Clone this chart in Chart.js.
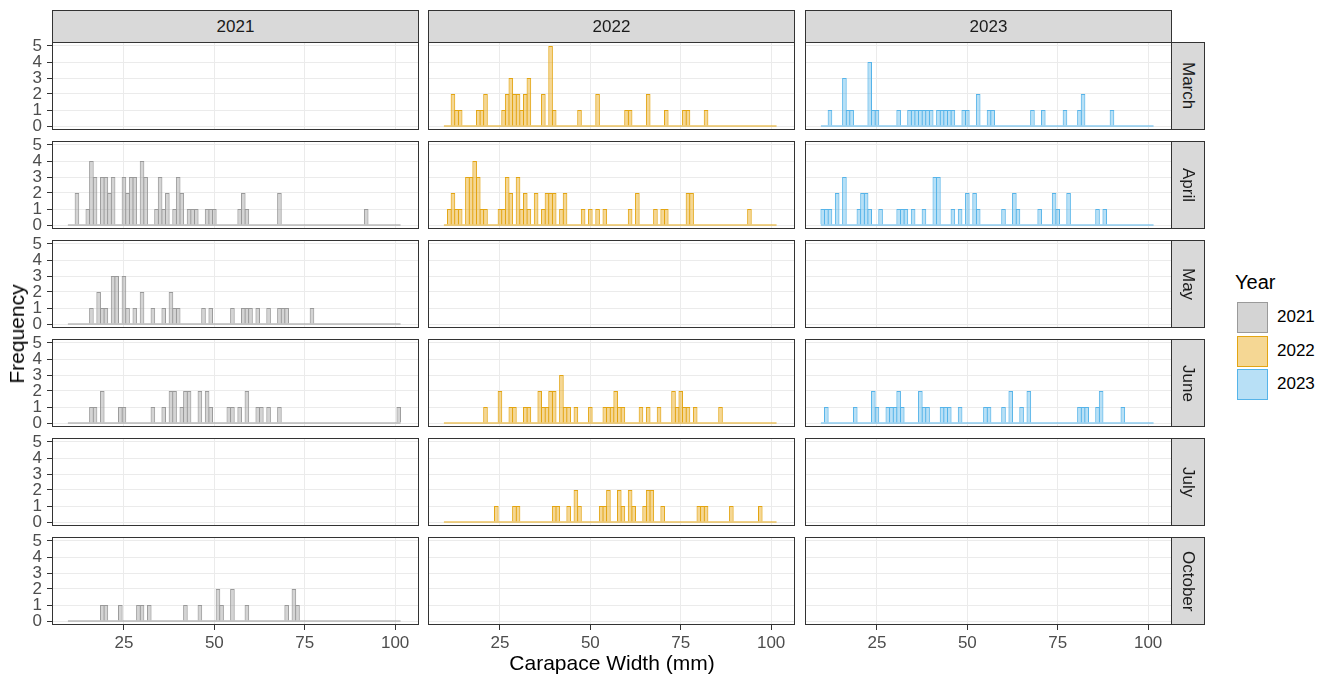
<!DOCTYPE html>
<html><head><meta charset="utf-8">
<script src="https://cdn.jsdelivr.net/npm/chart.js@4.4.1/dist/chart.umd.min.js"></script>
<style>
body{margin:0;background:#fff;width:1331px;height:682px;overflow:hidden;font-family:"Liberation Sans",Arial,sans-serif;position:relative}
.strip{position:absolute;background:#D9D9D9;border:1px solid #333;box-sizing:border-box;display:flex;align-items:center;justify-content:center;color:#1A1A1A;font-size:17px}
.vstrip{writing-mode:vertical-rl}
canvas{position:absolute}
.txt{position:absolute;white-space:nowrap;color:#000}
</style></head><body>
<script>
// ---- data ----
const years = ['2021','2022','2023'];
const months = ['March','April','May','June','July','October'];
const xTicks = [25,50,75,100];
const yTicks = [0,1,2,3,4,5];
const binFirst = 10, binCount = 92;   // 1 mm bins centred on 10 ... 101 mm
const yearFill = ['rgba(153,153,153,0.42)','rgba(230,159,0,0.42)','rgba(86,180,233,0.42)'];
const yearLine = ['#9A9A9A','#E3A512','#56B4E9'];

// [carapace width bin (mm), frequency]
const apr2021 = [[12,2],[15,1],[16,4],[17,3],[19,3],[20,3],[21,2],[22,3],[25,3],[26,2],[27,3],[28,3],[30,4],[31,3],[34,1],[35,3],[36,1],[37,2],[39,1],[40,3],[41,2],[43,1],[44,1],[45,1],[48,1],[49,1],[50,1],[57,1],[58,2],[59,1],[68,2],[92,1]];
const may2021 = [[16,1],[18,2],[19,1],[20,1],[22,3],[23,3],[25,3],[26,1],[28,1],[30,2],[33,1],[36,1],[38,2],[39,1],[40,1],[47,1],[49,1],[55,1],[58,1],[59,1],[60,1],[62,1],[65,1],[68,1],[69,1],[70,1],[77,1]];
const jun2021 = [[16,1],[17,1],[19,2],[24,1],[25,1],[33,1],[36,1],[38,2],[39,2],[41,1],[42,2],[43,2],[46,2],[48,2],[49,1],[54,1],[55,1],[57,1],[59,2],[62,1],[63,1],[65,1],[68,1],[101,1]];
const oct2021 = [[19,1],[20,1],[24,1],[29,1],[30,1],[32,1],[42,1],[46,1],[51,2],[52,1],[55,2],[59,1],[70,1],[72,2],[73,1]];
const mar2022 = [[12,2],[13,1],[14,1],[19,1],[20,1],[21,2],[26,1],[27,2],[28,3],[29,2],[30,2],[31,1],[32,2],[33,3],[37,2],[39,5],[40,1],[47,1],[52,2],[60,1],[61,1],[66,2],[71,1],[76,1],[77,1],[82,1]];
const apr2022 = [[11,1],[12,2],[13,1],[14,1],[16,3],[17,3],[18,4],[19,3],[20,1],[21,1],[25,1],[26,1],[27,3],[28,2],[30,3],[31,1],[32,2],[33,1],[35,2],[37,1],[38,2],[39,2],[40,2],[42,1],[43,2],[48,1],[50,1],[52,1],[54,1],[61,1],[63,2],[68,1],[70,1],[71,1],[77,2],[78,2],[94,1]];
const jun2022 = [[21,1],[25,2],[28,1],[29,1],[32,1],[33,1],[36,2],[37,1],[38,1],[39,2],[40,2],[42,3],[43,1],[44,1],[46,1],[50,1],[54,1],[55,1],[56,1],[57,2],[58,1],[59,1],[64,1],[66,1],[69,1],[73,2],[74,1],[75,2],[76,1],[77,1],[79,1],[86,1]];
const jul2022 = [[24,1],[29,1],[30,1],[40,1],[41,1],[44,1],[46,2],[47,1],[53,1],[54,1],[55,2],[58,2],[59,1],[61,2],[62,1],[65,1],[66,2],[67,2],[70,1],[80,1],[81,1],[82,1],[89,1],[97,1]];
const mar2023 = [[12,1],[16,3],[17,1],[18,1],[23,4],[24,1],[25,1],[31,1],[34,1],[35,1],[36,1],[37,1],[38,1],[39,1],[40,1],[42,1],[43,1],[44,1],[45,1],[46,1],[49,1],[50,1],[53,2],[56,1],[57,1],[68,1],[71,1],[77,1],[81,1],[82,2],[90,1]];
const apr2023 = [[10,1],[11,1],[12,1],[14,2],[16,3],[20,1],[21,2],[22,2],[23,1],[26,1],[31,1],[32,1],[33,1],[35,1],[38,1],[41,3],[42,3],[46,1],[48,1],[50,2],[52,2],[53,1],[60,1],[63,2],[64,1],[70,1],[74,2],[75,1],[78,2],[86,1],[88,1]];
const jun2023 = [[11,1],[19,1],[24,2],[25,1],[28,1],[29,1],[30,1],[31,2],[32,1],[37,2],[38,1],[39,1],[43,1],[44,1],[45,1],[48,1],[55,1],[56,1],[60,1],[62,2],[65,1],[67,2],[81,1],[82,1],[83,1],[86,1],[87,2],[93,1]];

const panelData = {
  '2021': {April: apr2021, May: may2021, June: jun2021, October: oct2021},
  '2022': {March: mar2022, April: apr2022, June: jun2022, July: jul2022},
  '2023': {March: mar2023, April: apr2023, June: jun2023}
};

// ---- layout ----
const colLeft = [52, 428, 805];
const panelW = 367;
const rowTop = [42, 141, 240, 339, 438, 537];
const panelH = 88;
const xMin = 5.1, xMax = 106.6, yMin = -0.25, yMax = 5.25;
const FONT = 'Liberation Sans';
const barLine = 1;
const barPct = 1 + barLine / (panelW / (xMax - xMin)); // border centred on the bin edge

const borderPlugin = {
  id: 'pborder',
  afterDraw(chart) {
    const {ctx, chartArea: a} = chart;
    ctx.save();
    ctx.strokeStyle = '#333333';
    ctx.lineWidth = 1;
    ctx.strokeRect(a.left + 0.5, a.top + 0.5, a.right - a.left - 1, a.bottom - a.top - 1);
    ctx.restore();
  }
};

function zeroPad(s) { s.paddingLeft = 0; s.paddingRight = 0; s.paddingTop = 0; s.paddingBottom = 0; }

function makePanel(r, c) {
  const isLeft = c === 0, isBottom = r === months.length - 1;
  const yAxisW = isLeft ? 52 : 0, xAxisH = isBottom ? 32 : 0;
  const padTop = isLeft ? 10 : 0, padBottom = (isLeft && !isBottom) ? 10 : 0;
  const W = panelW + yAxisW, H = panelH + xAxisH + padTop + padBottom;
  const cv = document.createElement('canvas');
  cv.width = W; cv.height = H;
  cv.style.width = W + 'px'; cv.style.height = H + 'px';
  cv.style.left = (colLeft[c] - yAxisW) + 'px';
  cv.style.top = (rowTop[r] - padTop) + 'px';
  document.body.appendChild(cv);

  const counts = panelData[years[c]][months[r]];
  const datasets = [];
  if (counts) {
    const dense = [];
    for (let i = 0; i < binCount; i++) dense.push({x: binFirst + i, y: 0});
    counts.forEach(([mm, n]) => { dense[mm - binFirst].y = n; });
    datasets.push({
      type: 'bar', data: dense,
      backgroundColor: yearFill[c], borderColor: yearLine[c], borderWidth: barLine,
      borderSkipped: 'start', categoryPercentage: 1, barPercentage: barPct, grouped: false, order: 2
    });
    datasets.push({
      type: 'line',
      data: [{x: binFirst - 0.5, y: 0}, {x: binFirst + binCount - 0.5, y: 0}],
      borderColor: yearLine[c], borderWidth: 1.2, pointRadius: 0, order: 1
    });
  }

  new Chart(cv, {
    type: 'bar',
    data: {datasets},
    options: {
      responsive: false, animation: false, devicePixelRatio: 1, events: [],
      layout: {padding: {top: padTop, bottom: padBottom, left: 0, right: 0}, autoPadding: false},
      plugins: {legend: {display: false}, tooltip: {enabled: false}},
      scales: {
        x: {
          type: 'linear', min: xMin, max: xMax, offset: false,
          afterBuildTicks: s => { s.ticks = xTicks.map(v => ({value: v})); },
          afterFit: s => { s.height = xAxisH; zeroPad(s); },
          grid: {offset: false, color: '#EBEBEB', lineWidth: 1, drawTicks: isBottom, tickLength: 5, tickColor: '#333333', tickWidth: 1},
          border: {display: false},
          ticks: {display: isBottom, color: '#4D4D4D', font: {family: FONT, size: 17}, padding: 3, maxRotation: 0, autoSkip: false}
        },
        y: {
          type: 'linear', min: yMin, max: yMax, offset: false,
          afterBuildTicks: s => { s.ticks = yTicks.map(v => ({value: v})); },
          afterFit: s => { s.width = yAxisW; zeroPad(s); },
          grid: {color: '#EBEBEB', lineWidth: 1, drawTicks: isLeft, tickLength: 5, tickColor: '#333333', tickWidth: 1},
          border: {display: false},
          ticks: {display: isLeft, color: '#4D4D4D', font: {family: FONT, size: 17}, padding: 5, autoSkip: false}
        }
      }
    },
    plugins: [borderPlugin]
  });
}

for (let r = 0; r < months.length; r++)
  for (let c = 0; c < years.length; c++) makePanel(r, c);

// strips
years.forEach((y, c) => {
  const d = document.createElement('div');
  d.className = 'strip';
  d.style.left = colLeft[c] + 'px'; d.style.top = '10px';
  d.style.width = panelW + 'px'; d.style.height = '33px';
  d.textContent = y;
  document.body.appendChild(d);
});
months.forEach((m, r) => {
  const d = document.createElement('div');
  d.className = 'strip vstrip';
  d.style.left = (colLeft[2] + panelW - 1) + 'px'; d.style.top = rowTop[r] + 'px';
  d.style.width = '34px'; d.style.height = panelH + 'px';
  d.textContent = m;
  document.body.appendChild(d);
});

// axis titles
function addText(t, css) {
  const d = document.createElement('div');
  d.className = 'txt'; d.textContent = t;
  Object.assign(d.style, css);
  document.body.appendChild(d);
  return d;
}
addText('Carapace Width (mm)', {left: '612px', top: '651px', fontSize: '21px', transform: 'translateX(-50%)'});
addText('Frequency', {left: '17px', top: '334px', fontSize: '21px', transform: 'translate(-50%,-50%) rotate(-90deg)'});

// legend
addText('Year', {left: '1235px', top: '271px', fontSize: '20px'});
years.forEach((y, i) => {
  const b = document.createElement('div');
  Object.assign(b.style, {position: 'absolute', left: '1237px', top: (302 + i * 33.5) + 'px', width: '31px', height: '31px',
    background: yearFill[i], border: '1px solid ' + yearLine[i], boxSizing: 'border-box'});
  document.body.appendChild(b);
  addText(y, {left: '1277px', top: (307 + i * 33.5) + 'px', fontSize: '17px', color: '#000'});
});
</script>
</body></html>
